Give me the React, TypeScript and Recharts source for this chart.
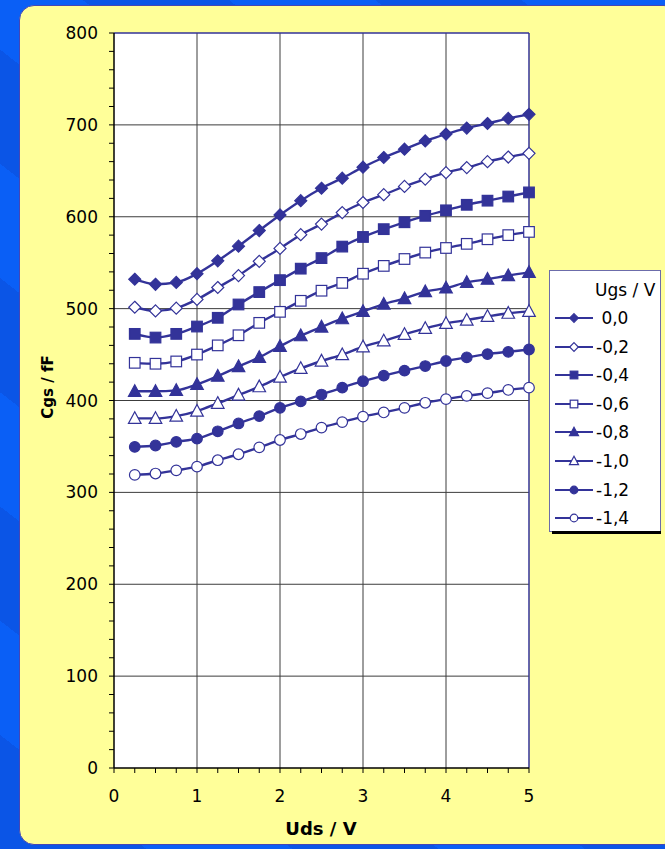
import React from 'react';
import { LineChart, Line, XAxis, YAxis, CartesianGrid, ReferenceLine } from 'recharts';

// ---- data ----
const uds = [0.25, 0.5, 0.75, 1, 1.25, 1.5, 1.75, 2, 2.25, 2.5, 2.75, 3, 3.25, 3.5, 3.75, 4, 4.25, 4.5, 4.75, 5];
const ugs00 = [532, 526.5, 528.5, 538, 552, 568, 585, 602, 617.5, 631, 642, 654, 664.5, 673.5, 682.5, 690, 696.5, 701.5, 707, 711.5];
const ugs02 = [501.5, 497.5, 500.5, 510, 523, 536, 551.5, 565.5, 580.5, 592, 604.5, 615.5, 624, 633, 641, 648, 653.5, 660, 665, 669];
const ugs04 = [472.5, 468.5, 472.5, 480.5, 490, 504.5, 518, 531, 543.5, 555, 567.5, 578, 586.5, 594, 601, 607, 613, 617.5, 622, 626.5];
const ugs06 = [441, 440, 442.5, 450, 460, 471, 484.5, 496.5, 508.5, 519.5, 528, 538, 546.5, 554, 561, 566, 570.5, 575.5, 580, 583.5];
const ugs08 = [410, 410, 411, 417.5, 426.5, 437, 447, 459, 470.5, 480, 489, 497, 505, 511, 518.5, 522.5, 528.5, 532, 536, 539.5];
const ugs10 = [380.5, 380.5, 383, 388.5, 397, 406, 415, 425.5, 435, 443, 450, 458.5, 465, 472, 478.5, 484, 487.5, 491.5, 495, 497];
const ugs12 = [349.5, 351, 355, 358.5, 366.5, 375, 383, 392, 399, 406.5, 414, 421, 427, 432.5, 437.5, 443, 447, 450.5, 453, 455.5];
const ugs14 = [319, 320.5, 324, 328, 335, 341.5, 349, 357, 363.5, 370.5, 376.5, 382.5, 387, 392, 397.5, 401.5, 405, 408, 411.5, 414];

const seriesLabels = [' 0,0', '-0,2', '-0,4', '-0,6', '-0,8', '-1,0', '-1,2', '-1,4'];
const seriesValues = [ugs00, ugs02, ugs04, ugs06, ugs08, ugs10, ugs12, ugs14];
const seriesShapes = ['diamond', 'diamond', 'square', 'square', 'triangle', 'triangle', 'circle', 'circle'];
const seriesFilled = [true, false, true, false, true, false, true, false];

const xTicks = [0, 0.25, 0.5, 0.75, 1, 1.25, 1.5, 1.75, 2, 2.25, 2.5, 2.75, 3, 3.25, 3.5, 3.75, 4, 4.25, 4.5, 4.75, 5];
const yTicks = Array.from({ length: 41 }, (_, i) => i * 20);
const xGrid = [1, 2, 3, 4];
const yGrid = [100, 200, 300, 400, 500, 600, 700];

const legendTitle = 'Ugs / V';
const xTitle = 'Uds / V';
const yTitle = 'Cgs / fF';

const data = uds.map((x, i) => {
  const row: any = { x };
  seriesValues.forEach((arr, k) => { row['s' + k] = arr[i]; });
  return row;
});

const NAVY = '#333399';
const FONT = '"DejaVu Sans", Verdana, sans-serif';

function Marker({ cx, cy, shape, filled, scale = 1 }: any) {
  const fill = filled ? NAVY : '#ffffff';
  const sw = 1.2;
  if (shape === 'diamond') {
    const r = 6 * scale;
    return <path d={`M${cx},${cy - r}L${cx + r},${cy}L${cx},${cy + r}L${cx - r},${cy}Z`} fill={fill} stroke={NAVY} strokeWidth={sw} />;
  }
  if (shape === 'square') {
    const r = 5.3 * scale;
    return <rect x={cx - r} y={cy - r} width={2 * r} height={2 * r} fill={fill} stroke={NAVY} strokeWidth={sw} />;
  }
  if (shape === 'triangle') {
    const r = 6.3 * scale;
    return <path d={`M${cx},${cy - r * 1.05}L${cx + r},${cy + r * 0.8}L${cx - r},${cy + r * 0.8}Z`} fill={fill} stroke={NAVY} strokeWidth={sw} />;
  }
  const r = 5.3 * scale;
  return <circle cx={cx} cy={cy} r={r} fill={fill} stroke={NAVY} strokeWidth={sw} />;
}

function LegendBox() {
  return (
    <div style={{ position: 'absolute', left: 549, top: 270, width: 110, height: 260, background: '#fff', border: '1px solid #6c6caa', fontFamily: FONT, fontSize: 17, color: '#000' }}>
      <div style={{ position: 'absolute', left: 45, top: 8, whiteSpace: 'pre', lineHeight: '22px' }}>{legendTitle}</div>
      {seriesLabels.map((lab, i) => (
        <div key={i} style={{ position: 'absolute', left: 0, top: 36 + i * 28.6, height: 22, width: 110 }}>
          <svg width={46} height={22} style={{ position: 'absolute', left: 0, top: 0 }}>
            <line x1={5} y1={11} x2={43} y2={11} stroke={NAVY} strokeWidth={2} />
            <Marker cx={24} cy={11} shape={seriesShapes[i]} filled={seriesFilled[i]} scale={0.72} />
          </svg>
          <div style={{ position: 'absolute', left: 46, top: 0, lineHeight: '22px', whiteSpace: 'pre' }}>{lab}</div>
        </div>
      ))}
      <div style={{ position: 'absolute', left: 2, top: 260, width: 109, height: 3, background: '#000' }} />
    </div>
  );
}

export default function App() {
  return (
    <div style={{ position: 'absolute', left: 0, top: 0, width: 665, height: 849, overflow: 'hidden', background: 'repeating-linear-gradient(38deg, #0b55e6 0px, #0b55e6 90px, #0a5ff6 90px, #0a5ff6 180px)' }}>
      <div style={{ position: 'absolute', left: 19, top: 5, width: 660, height: 840, background: '#ffff99', border: '1.5px solid #4646b4', borderRadius: 15, boxSizing: 'border-box' }} />
      <div style={{ position: 'absolute', left: 0, top: 0 }}>
        <LineChart width={665} height={849} data={data} margin={{ top: 33, right: 136, bottom: 41, left: 54 }}>
          <CartesianGrid fill="#ffffff" stroke="#3c3c3c" horizontalValues={yGrid} verticalValues={xGrid} />
          <XAxis
            dataKey="x"
            type="number"
            domain={[0, 5]}
            ticks={xTicks}
            interval={0}
            height={40}
            tickSize={5}
            tickMargin={17}
            axisLine={{ stroke: '#000', strokeWidth: 1.5 }}
            tickLine={{ stroke: '#000' }}
            tick={{ fill: '#000', fontSize: 17, fontFamily: FONT }}
            tickFormatter={(v: number) => (Number.isInteger(v) ? String(v) : '')}
          />
          <YAxis
            type="number"
            domain={[0, 800]}
            ticks={yTicks}
            interval={0}
            width={60}
            tickSize={5}
            tickMargin={11}
            axisLine={{ stroke: '#000', strokeWidth: 1.5 }}
            tickLine={{ stroke: '#000' }}
            tick={{ fill: '#000', fontSize: 17, fontFamily: FONT }}
            tickFormatter={(v: number) => (v % 100 === 0 ? String(v) : '')}
          />
          <ReferenceLine y={800} stroke={NAVY} strokeWidth={1.5} />
          <ReferenceLine x={5} stroke={NAVY} strokeWidth={1.5} />
          {seriesLabels.map((lab, k) => (
            <Line
              key={k}
              dataKey={'s' + k}
              name={lab}
              type="monotone"
              stroke={NAVY}
              strokeWidth={2.4}
              isAnimationActive={false}
              dot={(p: any) => <Marker key={`m${k}-${p.index}`} cx={p.cx} cy={p.cy} shape={seriesShapes[k]} filled={seriesFilled[k]} />}
              activeDot={false}
            />
          ))}
        </LineChart>
      </div>
      <div style={{ position: 'absolute', left: 321, top: 828, transform: 'translate(-50%, -50%)', fontFamily: FONT, fontWeight: 'bold', fontSize: 18, whiteSpace: 'nowrap' }}>{xTitle}</div>
      <div style={{ position: 'absolute', left: 48, top: 387, transform: 'translate(-50%, -50%) rotate(-90deg)', fontFamily: FONT, fontWeight: 'bold', fontSize: 15, whiteSpace: 'nowrap' }}>{yTitle}</div>
      <LegendBox />
    </div>
  );
}
